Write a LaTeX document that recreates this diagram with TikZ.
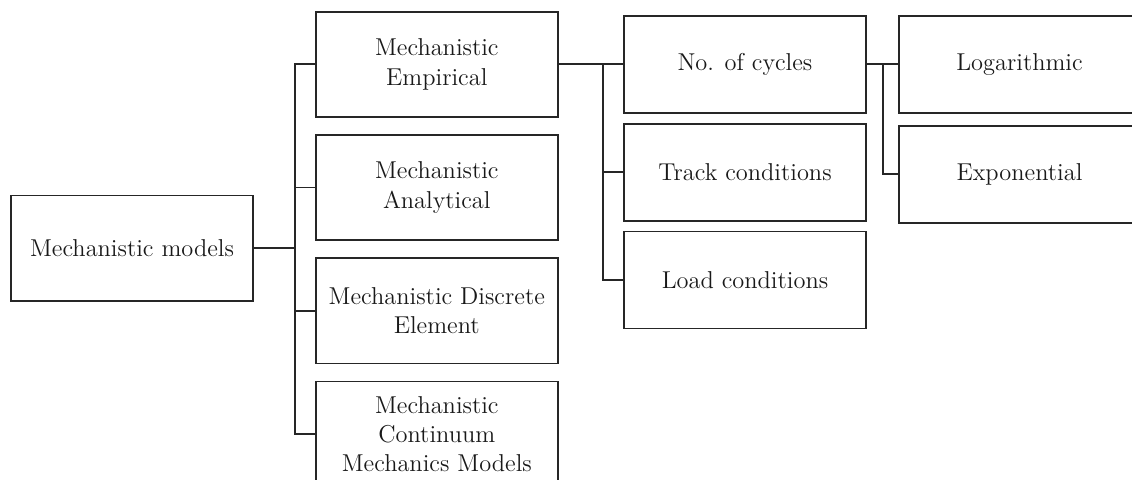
\documentclass[tikz,border=0pt]{standalone}
\usepackage{tikz}
\tikzset{
  box/.style={draw=black!85,line width=0.9pt,minimum width=120.9pt,inner sep=0pt,
    align=center,text=black!90,font=\fontsize{12.2pt}{14.7pt}\selectfont},
  tallbox/.style={box,minimum height=52.6pt},
  shortbox/.style={box,minimum height=48.5pt},
  link/.style={draw=black!85,line width=0.9pt}
}

\begin{document}
\begin{tikzpicture}[x=0.5pt,y=-0.5pt]
          \path[use as bounding box,clip] (0,0) rectangle (1132,479);

          \node[tallbox] (MM) at (132,248) {Mechanistic models};

          % second column
          \node[tallbox] (ME) at (436.8,64.2) {Mechanistic\\Empirical};
          \node[tallbox] (MA) [below of=ME,node distance=61.65pt] {Mechanistic\\Analytical};
          \node[tallbox] (MD) [below of=MA,node distance=61.65pt] {Mechanistic Discrete\\Element};
          \node[tallbox] (MC) [below of=MD,node distance=61.65pt] {Mechanistic\\Continuum\\Mechanics Models};

          % third column
          \node[shortbox] (NC) at (745,64.2) {No. of cycles};
          \node[shortbox] (TC) [below of=NC,node distance=53.95pt] {Track conditions};
          \node[shortbox] (LC) [below of=TC,node distance=53.95pt] {Load conditions};

          % fourth column
          \node[shortbox] (LG) at (1019.5,64.2) {Logarithmic};
          \node[shortbox] (EX) [below of=LG,node distance=55pt] {Exponential};

          \coordinate (J1) at (295,248);
          \coordinate (J2) at (603.3,64.2);
          \coordinate (J3) at (883.3,64.2);

          \draw[link] (MM.east) -- (J1);
          \foreach \n in {ME,MA,MD,MC}
            \draw[link] (\n.west) -| (J1);

          \draw[link] (ME.east) -- (J2);
          \foreach \n in {NC,TC,LC}
            \draw[link] (\n.west) -| (J2);

          \draw[link] (NC.east) -- (J3);
          \foreach \n in {LG,EX}
            \draw[link] (\n.west) -| (J3);
        \end{tikzpicture}
\end{document}
